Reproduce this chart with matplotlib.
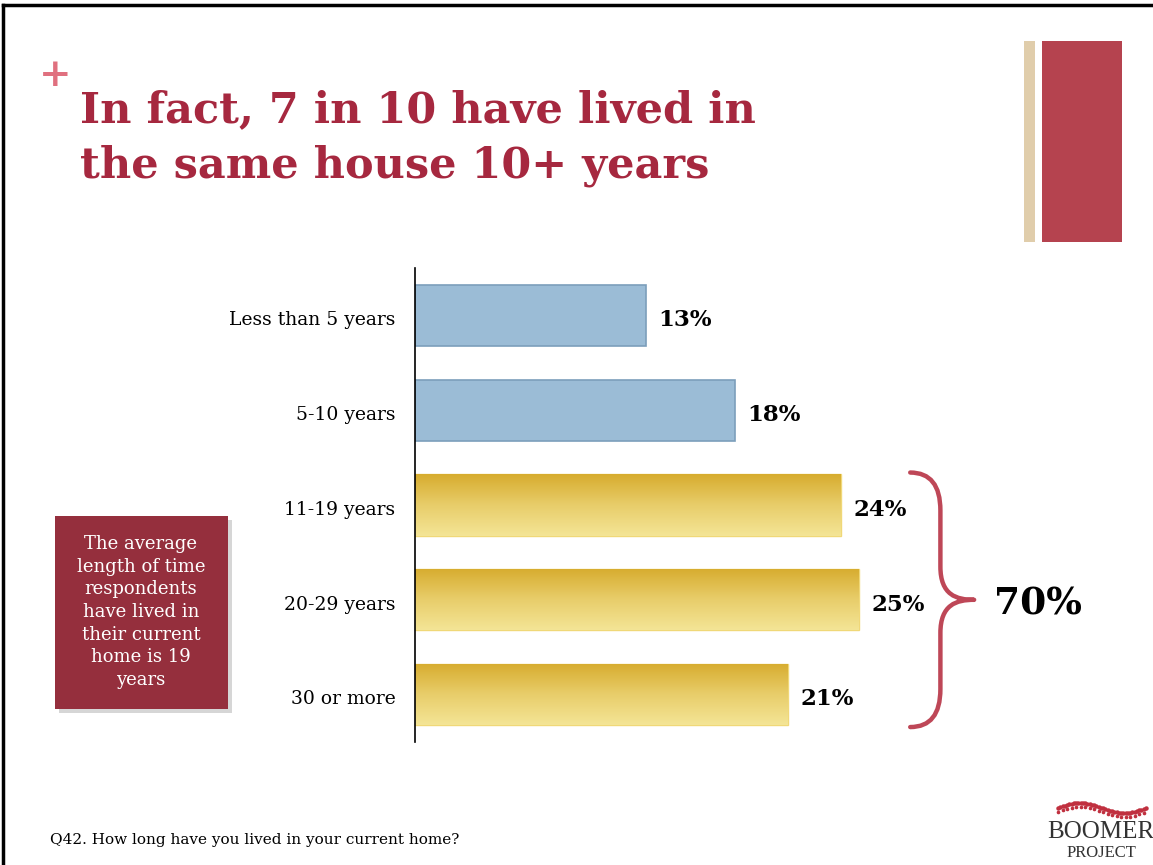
import matplotlib.pyplot as plt
import numpy as np
from matplotlib.patches import Rectangle, PathPatch
from matplotlib.path import Path
from matplotlib.colors import LinearSegmentedColormap

categories = ['Less than 5 years', '5-10 years', '11-19 years', '20-29 years', '30 or more']
values = [13, 18, 24, 25, 21]
group = ['short', 'short', 'long', 'long', 'long']
total_long = '70%'
title = 'In fact, 7 in 10 have lived in\nthe same house 10+ years'
note = ('The average\nlength of time\nrespondents\nhave lived in\ntheir current\n'
        'home is 19\nyears')
footer = 'Q42. How long have you lived in your current home?'

W, H = 1153, 865
fig = plt.figure(figsize=(W / 100, H / 100), dpi=100)
fig.patch.set_facecolor('white')

def fx(px):
    return px / W

def fy(py):
    return 1 - py / H

serif = 'DejaVu Serif'
red = '#A6283F'

# slide border (top / left)
fig.add_artist(plt.Line2D([fx(3), fx(W)], [fy(5), fy(5)], color='black', lw=2.5))
fig.add_artist(plt.Line2D([fx(3), fx(3)], [fy(5), fy(H)], color='black', lw=2.5))

# plus sign
fig.text(fx(55), fy(75), '+', color='#E0707F', fontsize=28, fontweight='bold',
         ha='center', va='center', family=serif)

# title
fig.text(fx(80), fy(138), title, color=red, fontsize=31, fontweight='bold',
         family=serif, ha='left', va='center', linespacing=1.42)

# decorative bars top-right
fig.add_artist(Rectangle((fx(1024), fy(242)), fx(11), 201 / H,
                         transform=fig.transFigure, color='#E0CDAB', lw=0))
fig.add_artist(Rectangle((fx(1042), fy(242)), fx(80), 201 / H,
                         transform=fig.transFigure, color='#B5434F', lw=0))

# main bar axes
ax = fig.add_axes([fx(415), fy(742), fx(710), 474 / H])
ax.set_xlim(0, 40)
ax.set_ylim(4.5, -0.5)
ax.axis('off')
ax.plot([0, 0], [-0.5, 4.5], color='black', lw=1.2, clip_on=False)

ypos = np.arange(len(categories))
bh = 0.645
grad = np.linspace(0, 1, 256).reshape(-1, 1)
gold = LinearSegmentedColormap.from_list('gold', ['#D7AC2E', '#E8CD6A', '#F4E596'])

for y, v, g, c in zip(ypos, values, group, categories):
    if g == 'short':
        ax.barh(y, v, height=bh, color='#9BBCD6', edgecolor='#7C9EBB', lw=1.2)
    else:
        bar = ax.barh(y, v, height=bh, color='none', edgecolor='#F0D878', lw=1.0)[0]
        im = ax.imshow(grad, cmap=gold, aspect='auto',
                       extent=[0, v, y + bh / 2, y - bh / 2], zorder=1)
        im.set_clip_path(bar)
    ax.text(v + 0.7, y + 0.05, f'{v}%', fontsize=16.5, fontweight='bold',
            family=serif, ha='left', va='center')
    ax.text(-1.1, y + 0.05, c, fontsize=13.5, family=serif, ha='right', va='center')

# brace around long-tenure bars
top = 2 - bh / 2 - 0.02
bot = 4 + bh / 2 + 0.02
mid = 3
x0, x1, xt = 27.9, 29.5, 31.5
verts = [(x0, top),
         (x1 + 0.1, top), (x1 + 0.1, top + 0.4),
         (x1 + 0.1, mid - 0.35),
         (x1 + 0.1, mid - 0.05), (xt - 1.0, mid), (xt, mid),
         (xt - 1.0, mid), (x1 + 0.1, mid + 0.05), (x1 + 0.1, mid + 0.35),
         (x1 + 0.1, bot - 0.4),
         (x1 + 0.1, bot), (x0, bot)]
codes = [Path.MOVETO,
         Path.CURVE3, Path.CURVE3,
         Path.LINETO,
         Path.CURVE4, Path.CURVE4, Path.CURVE4,
         Path.CURVE4, Path.CURVE4, Path.CURVE4,
         Path.LINETO,
         Path.CURVE3, Path.CURVE3]
ax.add_patch(PathPatch(Path(verts, codes), fill=False, edgecolor='#BE4757',
                       lw=3.2, capstyle='round', joinstyle='round', clip_on=False))
ax.text(32.6, mid + 0.04, total_long, fontsize=27, fontweight='bold',
        family=serif, ha='left', va='center')

# note box with shadow
fig.add_artist(Rectangle((fx(59), fy(713)), fx(173), 193 / H,
                         transform=fig.transFigure, color='#BBBBBB', lw=0, alpha=0.6))
fig.add_artist(Rectangle((fx(55), fy(709)), fx(173), 193 / H,
                         transform=fig.transFigure, color='#952F3D', lw=0))
fig.text(fx(141), fy(612), note, color='white', fontsize=13, family=serif,
         ha='center', va='center', linespacing=1.33)

# footer
fig.text(fx(50), fy(840), footer, fontsize=11, family=serif, ha='left', va='center')

# logo
t = np.linspace(0, 1, 40)
lx = 1058 + t * 88
ly = 808 - 5 * np.sin(t * 2 * np.pi)
fig.add_artist(plt.Line2D(fx(lx), fy(ly), ls='none', marker='o', ms=2.2,
                          color='#C0303F'))
fig.add_artist(plt.Line2D(fx(lx[::2]), fy(ly[::2] + 4), ls='none', marker='o', ms=1.6,
                          color='#C0303F'))
fig.text(fx(1101), fy(832), 'BOOMER', fontsize=18, family='Liberation Serif',
         ha='center', va='center', color='#333333')
fig.text(fx(1101), fy(853), 'PROJECT', fontsize=12, family='Liberation Serif',
         ha='center', va='center', color='#333333')

fig.savefig('out.png', dpi=100, facecolor='white')
